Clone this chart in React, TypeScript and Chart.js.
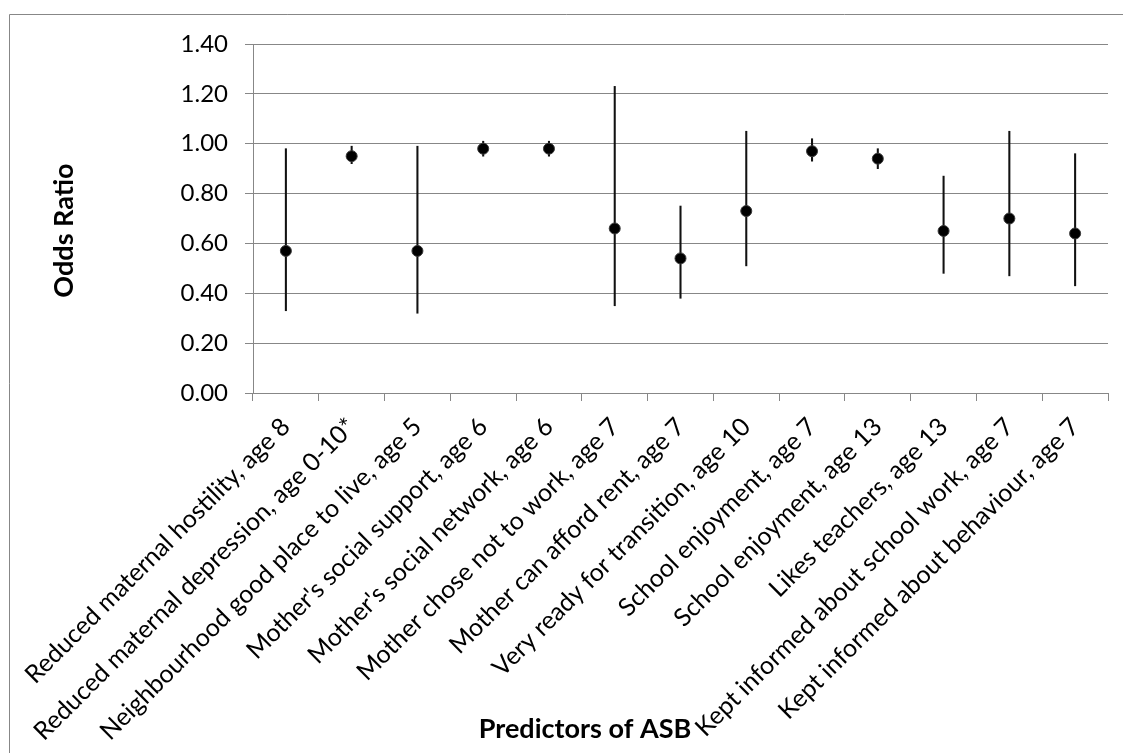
import React, { useEffect, useRef } from "react";
import { Chart, registerables } from "chart.js";

Chart.register(...registerables);

const categories = [
  "Reduced maternal hostility, age 8",
  "Reduced maternal depression, age 0-10*",
  "Neighbourhood good place to live, age 5",
  "Mother's social support, age 6",
  "Mother's social network, age 6",
  "Mother chose not to work, age 7",
  "Mother can afford rent, age 7",
  "Very ready for transition, age 10",
  "School enjoyment, age 7",
  "School enjoyment, age 13",
  "Likes teachers, age 13",
  "Kept informed about school work, age 7",
  "Kept informed about behaviour, age 7",
];

const oddsRatio = [0.57, 0.95, 0.57, 0.98, 0.98, 0.66, 0.54, 0.73, 0.97, 0.94, 0.65, 0.7, 0.64];
const lowerCI = [0.33, 0.92, 0.32, 0.95, 0.95, 0.35, 0.38, 0.51, 0.93, 0.9, 0.48, 0.47, 0.43];
const upperCI = [0.98, 0.99, 0.99, 1.01, 1.01, 1.23, 0.75, 1.05, 1.02, 0.98, 0.87, 1.05, 0.96];

const yTickValues = [0, 0.2, 0.4, 0.6, 0.8, 1.0, 1.2, 1.4];
const yTickLabels = ["0.00", "0.20", "0.40", "0.60", "0.80", "1.00", "1.20", "1.40"];

const yTitle = "Odds Ratio";
const xTitle = "Predictors of ASB";

const FONT = "Lato, 'Open Sans', sans-serif";
const GRID = "#878787";

const decor = {
  id: "decor",
  beforeDraw(chart: any) {
    const ctx = chart.ctx;
    ctx.save();
    ctx.fillStyle = "#ffffff";
    ctx.fillRect(0, 0, chart.width, chart.height);
    ctx.strokeStyle = GRID;
    ctx.lineWidth = 1;
    ctx.beginPath();
    ctx.moveTo(9.5, chart.height);
    ctx.lineTo(9.5, 14.5);
    ctx.lineTo(chart.width, 14.5);
    ctx.stroke();
    ctx.restore();
  },
  afterDraw(chart: any) {
    const ctx = chart.ctx;
    const area = chart.chartArea;
    ctx.save();
    ctx.fillStyle = "#000";
    ctx.font = `bold 27px ${FONT}`;
    ctx.textAlign = "center";
    ctx.textBaseline = "middle";
    // y title
    ctx.save();
    ctx.translate(area.left - 189, (area.top + area.bottom) / 2 + 12);
    ctx.rotate(-Math.PI / 2);
    ctx.fillText(yTitle, 0, 0);
    ctx.restore();
    // x title
    ctx.textBaseline = "alphabetic";
    ctx.fillText(xTitle, 585, 738);
    ctx.restore();
  },
};

export default function App() {
  const canvasRef = useRef<HTMLCanvasElement | null>(null);

  useEffect(() => {
    if (!canvasRef.current) return;
    const chart = new Chart(canvasRef.current, {
      type: "bar",
      data: {
        labels: categories,
        datasets: [
          {
            type: "line",
            label: "Odds Ratio",
            data: oddsRatio,
            showLine: false,
            pointRadius: 5.5,
            pointBackgroundColor: "#000",
            pointBorderColor: "#3a3a3a",
            pointBorderWidth: 1,
            order: 0,
          } as any,
          {
            type: "bar",
            label: "95% CI",
            data: lowerCI.map((lo, i) => [lo, upperCI[i]]),
            backgroundColor: "#111",
            borderWidth: 0,
            barThickness: 1.4,
            order: 1,
          } as any,
        ],
      },
      options: {
        responsive: false,
        maintainAspectRatio: false,
        animation: false,
        layout: { padding: { top: 44, right: 15, bottom: 0, left: 0 } },
        plugins: {
          legend: { display: false },
          tooltip: { enabled: false },
        },
        scales: {
          x: {
            type: "category",
            offset: true,
            grid: {
              display: true,
              offset: true,
              drawOnChartArea: false,
              drawTicks: true,
              tickLength: 8,
              color: GRID,
            },
            border: { display: true, color: GRID },
            ticks: {
              autoSkip: false,
              maxRotation: 45,
              minRotation: 45,
              padding: 11,
              color: "#000",
              font: { family: FONT, size: 25 },
            },
            afterFit(scale: any) {
              scale.height = 360;
              scale.paddingLeft = 0;
              scale.paddingRight = 0;
            },
          },
          y: {
            min: 0,
            max: 1.4,
            grid: { color: GRID, tickLength: 8, drawTicks: true },
            border: { display: true, color: GRID },
            ticks: {
              padding: 17,
              color: "#000",
              font: { family: FONT, size: 24 },
              callback: (_v: any, i: number) => yTickLabels[i],
            },
            afterBuildTicks(scale: any) {
              scale.ticks = yTickValues.map((v) => ({ value: v }));
            },
            afterFit(scale: any) {
              scale.width = 253;
            },
          },
        },
      },
      plugins: [decor],
    });
    return () => chart.destroy();
  }, []);

  return (
    <div style={{ position: "absolute", left: 0, top: 0, width: 1123, height: 753 }}>
      <canvas ref={canvasRef} width={1123} height={753} style={{ display: "block" }} />
    </div>
  );
}
